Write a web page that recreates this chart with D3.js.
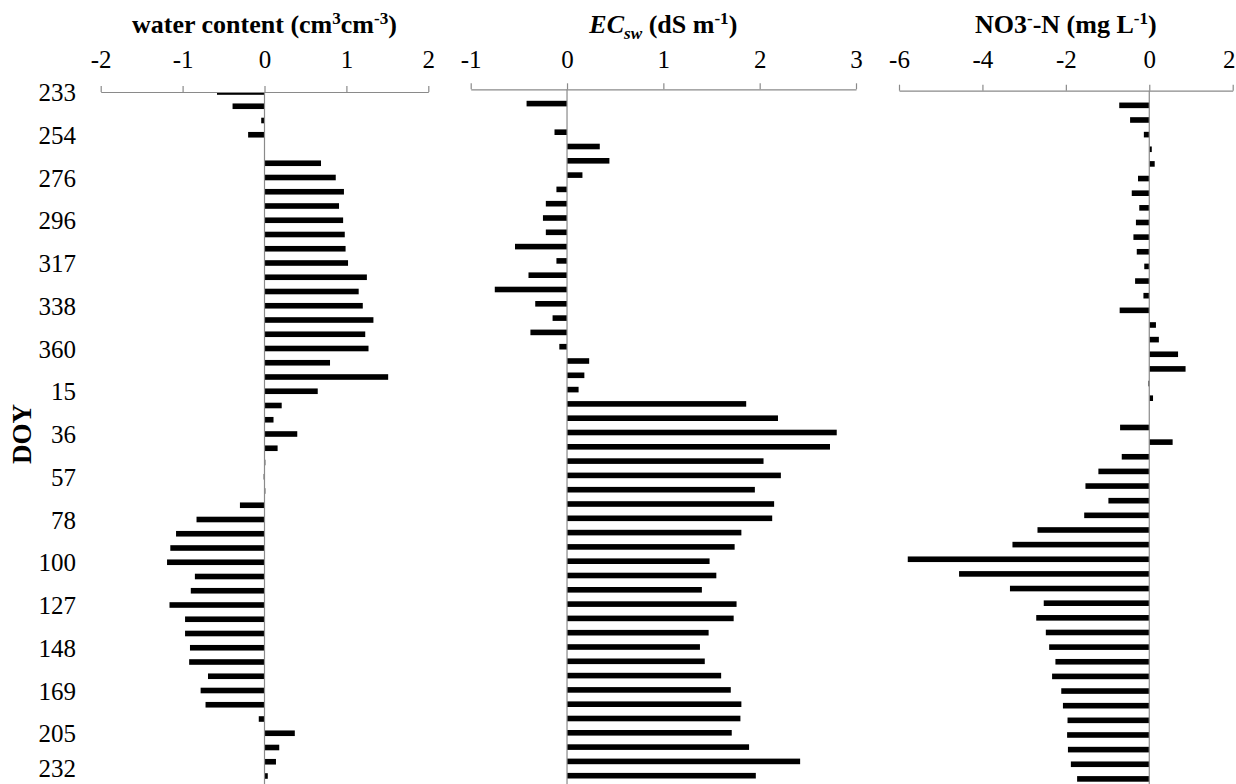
<!DOCTYPE html>
<html><head><meta charset="utf-8">
<script src="https://cdn.jsdelivr.net/npm/d3@7"></script>
<style>
body{margin:0;background:#fff}
svg{display:block}
text{font-family:"Liberation Serif","Times New Roman",serif;fill:#000}
</style>
</head><body>
<svg id="c" width="1236" height="784"></svg>
<script>
// DOY labels (every third sampling row)
const doyLabels = ["233","254","276","296","317","338","360","15","36","57","78","100","127","148","169","205","232"];
// water content change (cm3 cm-3), 49 rows top to bottom
const waterContent = [-0.58,-0.39,-0.04,-0.20,null,0.69,0.87,0.97,0.91,0.96,0.98,0.99,1.02,
  1.25,1.15,1.20,1.33,1.23,1.27,0.80,1.51,0.65,0.21,0.11,0.40,0.16,0.01,-0.01,0.01,-0.30,-0.83,
  -1.08,-1.15,-1.19,-0.85,-0.90,-1.16,-0.97,-0.97,-0.91,-0.92,-0.69,-0.78,-0.72,-0.07,0.37,0.18,0.14,0.04];
// ECsw change (dS m-1), 49 rows
const ecSw = [null,-0.42,null,-0.13,0.34,0.44,0.16,-0.11,-0.22,-0.25,-0.22,-0.54,-0.11,
  -0.40,-0.75,-0.33,-0.15,-0.38,-0.08,0.23,0.18,0.12,1.86,2.19,2.80,2.73,2.04,2.22,1.95,2.15,2.13,
  1.81,1.74,1.48,1.55,1.40,1.76,1.73,1.47,1.38,1.43,1.60,1.70,1.81,1.80,1.71,1.89,2.42,1.96];
// NO3--N change (mg L-1), 48 rows
const no3N = [null,-0.72,-0.46,-0.13,0.06,0.13,-0.27,-0.42,-0.24,-0.32,-0.38,-0.30,-0.12,
  -0.34,-0.14,-0.71,0.16,0.23,0.69,0.87,-0.02,0.09,null,-0.70,0.56,-0.66,-1.22,-1.53,-0.98,-1.56,-2.68,
  -3.28,-5.79,-4.56,-3.34,-2.53,-2.71,-2.48,-2.40,-2.25,-2.33,-2.11,-2.07,-1.96,-1.97,-1.95,-1.88,-1.73];
const waterTicks = [-2,-1,0,1,2];
const ecTicks = [-1,0,1,2,3];
const no3Ticks = [-6,-4,-2,0,2];

const svg = d3.select("#c");
const axisColor = "#8a8a8a";
const W = 1236, H = 784;

function rich(sel, parts, size){
  let shift = 0;
  parts.forEach(p=>{
    const ts = sel.append("tspan").text(p.t);
    let target = 0, fs = size;
    if(p.sup){ target = -size*0.36; fs = size*0.66; }
    if(p.sub){ target = size*0.22; fs = size*0.66; }
    ts.attr("dy", target - shift).attr("font-size", fs);
    if(p.italic) ts.attr("font-style","italic");
    shift = target;
  });
}

const panels = [
  {values: waterContent, domain:[-2,2], xr:[100.7,428.3], yr:[92,776], ticks: waterTicks,
   title:[{t:"water content (cm"},{t:"3",sup:true},{t:"cm"},{t:"-3",sup:true},{t:")"}]},
  {values: ecSw, domain:[-1,3], xr:[470.7,856], yr:[89.3,775.7], ticks: ecTicks,
   title:[{t:"EC",italic:true},{t:"sw",sub:true,italic:true},{t:" (dS m"},{t:"-1",sup:true},{t:")"}]},
  {values: no3N, domain:[-6,2], xr:[899,1232.7], yr:[90.7,778.9], ticks: no3Ticks,
   title:[{t:"NO3"},{t:"-",sup:true},{t:"-N (mg L"},{t:"-1",sup:true},{t:")"}]}
];

panels.forEach((p,i)=>{
  const g = svg.append("g");
  const x = d3.scaleLinear().domain(p.domain).range(p.xr);
  const y = d3.scalePoint().domain(d3.range(p.values.length)).range(p.yr);
  const top = p.yr[0];
  p.x = x; p.y = y;

  svg.append("clipPath").attr("id","clip"+i).append("rect")
    .attr("x",p.xr[0]-2).attr("y",top).attr("width",p.xr[1]-p.xr[0]+4).attr("height",H-top);

  const bh = 5.6;
  const data = p.values.map((v,k)=>({v,k})).filter(d=>d.v!==null);
  g.append("g").attr("clip-path",`url(#clip${i})`).selectAll("rect").data(data).join("rect")
    .attr("x",d=>x(Math.min(0,d.v)))
    .attr("width",d=>Math.abs(x(d.v)-x(0)))
    .attr("y",d=>y(d.k)-bh/2).attr("height",bh).attr("fill","#000");

  g.append("line").attr("x1",x(0)).attr("x2",x(0)).attr("y1",top).attr("y2",H)
    .attr("stroke",axisColor).attr("stroke-width",1.2);

  const ax = g.append("g").attr("transform",`translate(0,${top})`)
    .call(d3.axisTop(x).tickValues(p.ticks).tickSize(6).tickSizeOuter(0)
      .tickPadding(top-6-68).tickFormat(d=>String(d)));
  ax.select(".domain").attr("stroke",axisColor).attr("stroke-width",1.2);
  ax.selectAll(".tick line").attr("stroke",axisColor).attr("stroke-width",1.2);
  ax.selectAll(".tick text").attr("font-family",'"Liberation Serif","Times New Roman",serif')
    .attr("font-size",25).attr("fill","#000")
    .each(function(){
      // keep the edge label inside the page
      const bb = this.getBBox();
      const tx = this.parentNode.transform.baseVal.consolidate().matrix.e;
      const over = tx + bb.x + bb.width - (W - 0.5);
      if(over > 0) d3.select(this).attr("x", -over);
    });

  const t = svg.append("text").attr("x",(p.xr[0]+p.xr[1])/2).attr("y",33)
    .attr("text-anchor","middle").attr("font-weight","bold");
  rich(t, p.title, 26);
});

// DOY labels on first panel
const wy = panels[0].y;
svg.append("g").selectAll("text").data(doyLabels).join("text")
  .attr("x",76).attr("y",(d,j)=>Math.min(wy(j*3)+9, H-7)).attr("text-anchor","end")
  .attr("font-size",25).text(d=>d);

svg.append("text").attr("transform","translate(31,434) rotate(-90)")
  .attr("text-anchor","middle").attr("font-weight","bold").attr("font-size",27).text("DOY");
</script>
</body></html>
